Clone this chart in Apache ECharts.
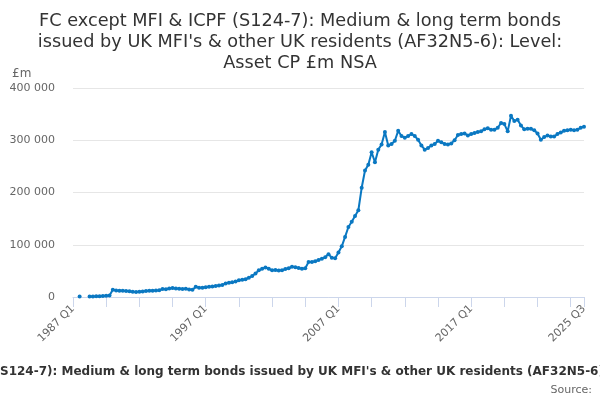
<!DOCTYPE html>
<html>
<head>
<meta charset="utf-8">
<script src="https://cdn.jsdelivr.net/npm/echarts@6/dist/echarts.min.js"></script>
<style>
  html, body { margin: 0; padding: 0; background: #fff; }
  #chart { width: 600px; height: 400px; }
</style>
</head>
<body>
<div id="chart"></div>
<script>
// quarters 1987 Q1 .. 2025 Q3
var quarters = [];
for (var y = 1987; y <= 2025; y++) {
    for (var q = 1; q <= 4; q++) {
        if (y === 2025 && q > 3) break;
        quarters.push(y + ' Q' + q);
    }
}

// level, £m
var values = [
    null, null, 800, null, null, 1000, 1100, 1200, 1500, 2000,
    2500, 2800, 14000, 12500, 12000, 11800, 11500, 11000, 10000, 9500,
    10000, 10500, 11500, 12000, 12000, 12500, 13000, 15500, 15000, 16500,
    17000, 16500, 16000, 15500, 16000, 14500, 14000, 19500, 17500, 17500,
    18500, 19500, 20000, 21000, 22000, 23000, 26000, 27500, 28000, 29500,
    32000, 33000, 34000, 37000, 40000, 45000, 51000, 54000, 56500, 54000,
    51000, 51500, 50500, 51000, 53500, 55000, 58000, 57000, 55500, 54000,
    55000, 67000, 67000, 68500, 71000, 73000, 76000, 82000, 75000, 74000,
    85000, 97000, 115000, 134000, 144000, 155000, 166000, 209000, 242000, 253000,
    277000, 258000, 282000, 292000, 316000, 290000, 293000, 299000, 318000, 308000,
    305000, 308000, 312000, 308000, 301000, 290000, 282000, 285000, 290000, 293000,
    299000, 296000, 293000, 292000, 294000, 300000, 310000, 312000, 313000, 309000,
    312000, 314000, 316000, 317000, 321000, 323000, 320000, 320000, 324000, 333000,
    331000, 317000, 347000, 337000, 339000, 328000, 321000, 322000, 322000, 319000,
    313000, 301000, 306000, 309000, 307000, 307000, 312000, 315000, 318000, 319000,
    320000, 319000, 320000, 324000, 326000
];

var yTicks = [0, 100000, 200000, 300000, 400000];

var titleText = "FC except MFI & ICPF (S124-7): Medium & long term bonds\nissued by UK MFI's & other UK residents (AF32N5-6): Level:\nAsset CP £m NSA";
var seriesName = "FC except MFI & ICPF (S124-7): Medium & long term bonds issued by UK MFI's & other UK residents (AF32N5-6): Level: Asset CP £m NSA";

var font = 'DejaVu Sans';
var last = quarters.length - 1;

var myChart = echarts.init(document.getElementById('chart'));

var option = {
    animation: false,
    textStyle: { fontFamily: font },
    title: {
        text: titleText,
        left: 'center',
        top: 6,
        textStyle: {
            fontFamily: font,
            fontSize: 17.7,
            fontWeight: 'normal',
            color: '#333',
            lineHeight: 21
        }
    },
    grid: {
        left: 73,
        right: 16,
        top: 88,
        bottom: 103
    },
    xAxis: {
        type: 'category',
        data: quarters,
        boundaryGap: false,
        axisLine: { lineStyle: { color: '#ccd6eb' } },
        axisTick: {
            length: 10,
            lineStyle: { color: '#ccd6eb' },
            interval: function (i) { return i % 10 === 0 || i === last; }
        },
        axisLabel: {
            rotate: 45,
            color: '#666',
            fontSize: 11,
            margin: 10,
            interval: function (i) { return i % 40 === 0 || i === last; }
        },
        splitLine: { show: false }
    },
    yAxis: {
        type: 'value',
        min: yTicks[0],
        max: yTicks[yTicks.length - 1],
        interval: 100000,
        axisLine: { show: false },
        axisTick: { show: false },
        axisLabel: {
            color: '#666',
            fontSize: 11,
            margin: 18,
            formatter: function (v) {
                return String(v).replace(/\B(?=(\d{3})+(?!\d))/g, ' ');
            }
        },
        splitLine: { lineStyle: { color: '#e6e6e6' } }
    },
    graphic: [
        {
            type: 'text',
            left: 12,
            top: 68,
            style: { text: '£m', fill: '#666', fontSize: 12, fontFamily: font }
        },
        {
            type: 'text',
            x: 310,
            y: 372,
            style: {
                text: seriesName,
                fill: '#333',
                fontSize: 12,
                fontWeight: 'bold',
                fontFamily: font,
                align: 'center',
                verticalAlign: 'middle'
            }
        },
        {
            type: 'text',
            x: 592,
            y: 390,
            style: {
                text: 'Source:',
                fill: '#666',
                fontSize: 11,
                fontFamily: font,
                align: 'right',
                verticalAlign: 'middle'
            }
        }
    ],
    series: [{
        name: seriesName,
        type: 'line',
        data: values,
        connectNulls: false,
        symbol: 'circle',
        symbolSize: 4,
        showSymbol: true,
        showAllSymbol: true,
        itemStyle: { color: '#0a78c2', borderWidth: 0 },
        lineStyle: { color: '#0a78c2', width: 2 }
    }]
};

myChart.setOption(option);
</script>
</body>
</html>
